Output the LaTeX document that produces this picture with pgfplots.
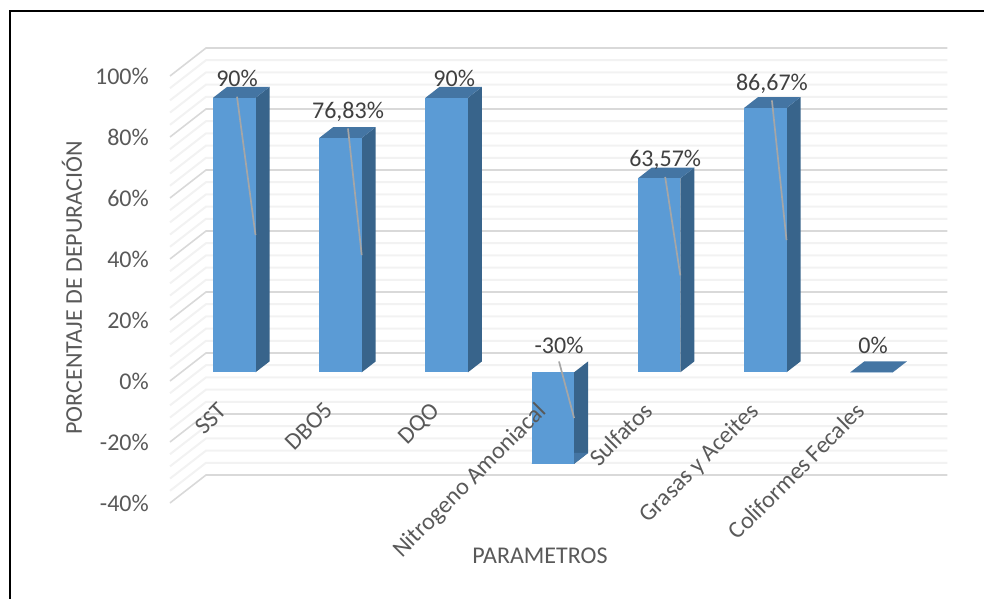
\documentclass[border=0pt]{standalone}
\usepackage{fontspec}
\setmainfont{Carlito}
\usepackage{pgfplots}
\usepackage{pgfplotstable}
\pgfplotsset{compat=1.18}

% Oblique projection: one unit of depth moves a point by these data offsets.
\def\depthx{0.339}
\def\depthy{9.18}
% The bars stand at this fraction of the depth and reach this far back.
\def\barnear{0.31}
\def\barfar{0.70}
\def\barhalf{0.2}

\definecolor{barfront}{HTML}{5B9BD5}
\definecolor{barside}{HTML}{38648B}
\definecolor{bartop}{HTML}{4475A3}
\definecolor{gridmajor}{HTML}{D9D9D9}
\definecolor{gridminor}{HTML}{F2F2F2}
\definecolor{axistext}{HTML}{595959}
\definecolor{valuetext}{HTML}{404040}
\definecolor{leader}{HTML}{A6A6A6}

\pgfplotstableread{
k  value
0  90
1  76.83
2  90
3  -30
4  63.57
5  86.67
6  0
}\depuracion

% One gridline: along the side wall, then along the back wall.
\newcommand{\wallline}[2]{%
  \pgfmathsetmacro\ga{-0.5+\depthx}%
  \pgfmathsetmacro\gb{6.48+\depthx}%
  \pgfmathsetmacro\gy{#1+\depthy}%
  \addplot[#2, forget plot] coordinates {(-0.5,#1) (\ga,\gy) (\gb,\gy)};
}

% One bar as three faces, side and top first.
\newcommand{\prism}[2]{%
  \pgfmathsetmacro\xl{#1-\barhalf+\barnear*\depthx}%
  \pgfmathsetmacro\xr{#1+\barhalf+\barnear*\depthx}%
  \pgfmathsetmacro\xlb{#1-\barhalf+\barfar*\depthx}%
  \pgfmathsetmacro\xrb{#1+\barhalf+\barfar*\depthx}%
  \pgfmathsetmacro\yz{\barnear*\depthy}%
  \pgfmathsetmacro\yv{#2+\barnear*\depthy}%
  \pgfmathsetmacro\yzb{\barfar*\depthy}%
  \pgfmathsetmacro\yvb{#2+\barfar*\depthy}%
  \addplot[fill=barside, draw=none, forget plot] coordinates {(\xr,\yz) (\xrb,\yzb) (\xrb,\yvb) (\xr,\yv)};
  \addplot[fill=bartop, draw=none, forget plot] coordinates {(\xl,\yv) (\xlb,\yvb) (\xrb,\yvb) (\xr,\yv)};
  \addplot[fill=barfront, draw=none, forget plot] coordinates {(\xl,\yz) (\xr,\yz) (\xr,\yv) (\xl,\yv)};
}

% Leader from a value label down to half the height of the bar's right edge.
\newcommand{\leaderline}[4]{%
  \pgfmathsetmacro\lx{#3}%
  \pgfmathsetmacro\ly{#4}%
  \pgfmathsetmacro\ex{#1+\barhalf+\barnear*\depthx}%
  \pgfmathsetmacro\ey{#2/2+\barnear*\depthy}%
  \addplot[leader, line width=1.7pt, forget plot] coordinates {(\lx,\ly) (\ex,\ey)};
}

\begin{document}
\begin{tikzpicture}[x=1pt,y=1pt]
\useasboundingbox (0,0) rectangle (984,598);
\draw[black, line width=2pt] (10,-2) -- (10,587) -- (986,587);
\begin{axis}[
  at={(170pt,95pt)}, anchor=south west,
  scale only axis,
  width=743.4pt, height=427pt,
  xmin=-0.5, xmax=6.5, ymin=-40, ymax=100,
  clip=false,
  axis on top,
  axis line style={draw=none},
  major tick style={draw=none},
  xtick={0,1,2,3,4,5,6},
  xticklabels={SST,DBO5,DQO,Nitrogeno Amoniacal,Sulfatos,Grasas y Aceites,Coliformes Fecales},
  x tick label style={rotate=45, anchor=north east, yshift=76.5pt, xshift=68pt,
    font=\fontsize{24}{26}\selectfont, text=axistext, inner sep=0pt},
  ytick={-40,-20,0,20,40,60,80,100},
  yticklabels={-40\%,-20\%,0\%,20\%,40\%,60\%,80\%,100\%},
  y tick label style={font=\fontsize{24}{26}\selectfont, text=axistext, inner sep=0pt, xshift=-21pt,
    /pgf/number format/assume math mode=true},
]
% Light gridlines first, so the stronger ones lie on top.
\pgfplotsinvokeforeach{-36,-32,-28,-24,-16,-12,-8,-4,4,8,12,16,24,28,32,36,44,48,52,56,64,68,72,76,84,88,92,96}{
  \wallline{#1}{gridminor, line width=2pt}
}
\pgfplotsinvokeforeach{-40,-20,0,20,40,60,80,100}{
  \wallline{#1}{gridmajor, line width=1.6pt}
}
% Bars, read from the table.
\pgfplotsinvokeforeach{0,1,2,3,4,5,6}{
  \pgfplotstablegetelem{#1}{value}\of\depuracion
  \let\barvalue\pgfplotsretval
  \prism{#1}{\barvalue}
}
% Leaders start under the value labels.
\leaderline{0}{90}{0.131}{93.2}
\leaderline{1}{76.83}{1.176}{82.8}
\leaderline{3}{-30}{3.163}{6.4}
\leaderline{4}{63.57}{4.163}{66.9}
\leaderline{5}{86.67}{5.168}{92}
% Value labels.
\begin{scope}[every node/.style={font=\fontsize{24}{26}\selectfont, text=valuetext, inner sep=0pt}]
\node at (axis cs:0.131,99.3) {90\%};
\node at (axis cs:1.176,88.4) {76,83\%};
\node at (axis cs:2.176,99.3) {90\%};
\node at (axis cs:3.163,11.7) {-30\%};
\node at (axis cs:4.163,72.5) {63,57\%};
\node at (axis cs:5.168,97.4) {86,67\%};
\node at (axis cs:6.12,11.7) {0\%};
\end{scope}
\end{axis}
\node[rotate=90, font=\fontsize{24}{26}\selectfont, text=axistext] at (72,310) {PORCENTAJE DE DEPURACIÓN};
\node[font=\fontsize{24}{26}\selectfont, text=axistext] at (540,42) {PARAMETROS};
\end{tikzpicture}
\end{document}
